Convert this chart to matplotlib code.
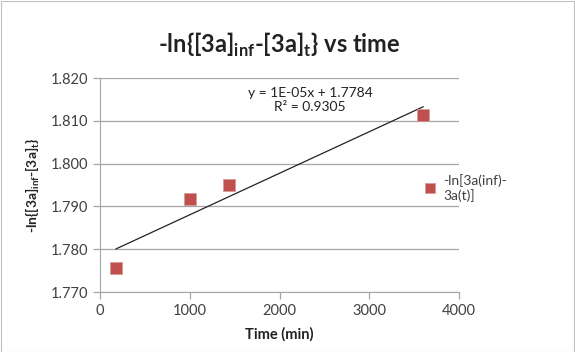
import matplotlib
matplotlib.use("Agg")
import matplotlib.pyplot as plt
import numpy as np

plt.rcParams['font.family'] = ['Lato', 'DejaVu Sans']
plt.rcParams['mathtext.fontset'] = 'custom'
plt.rcParams['mathtext.rm'] = 'Lato'
plt.rcParams['mathtext.bf'] = 'Lato:bold'

# Data
time_min = [180, 1000, 1440, 3600]
neg_ln = [1.7756, 1.7917, 1.7950, 1.8114]
x_ticks = [0, 1000, 2000, 3000, 4000]
y_ticks = [1.770, 1.780, 1.790, 1.800, 1.810, 1.820]
eq_text = "y = 1E-05x + 1.7784\nR\u00b2 = 0.9305"
series_label = "-ln[3a(inf)-\n3a(t)]"

fig = plt.figure(figsize=(5.75, 3.52), dpi=100)
ax = fig.add_axes([100/575, 1-292/352, 359/575, 214/352])

grid_c = '#a6a6a6'
ax.set_axisbelow(True)
ax.grid(axis='y', color=grid_c, lw=0.9)

# linear trendline over the data range
coef = np.polyfit(time_min, neg_ln, 1)
xt = np.array([min(time_min), max(time_min)])
ax.plot(xt, np.polyval(coef, xt), color='#222222', lw=0.9, zorder=2)

ax.plot(time_min, neg_ln, 's', color='#C0504D', markersize=8.5,
        markeredgecolor='#d99694', markeredgewidth=0.5, label=series_label, zorder=3)

ax.set_xlim(0, 4000)
ax.set_ylim(1.770, 1.820)
ax.set_xticks(x_ticks)
ax.set_yticks(y_ticks)
ax.set_yticklabels(['%.3f' % v for v in y_ticks])
for s in ['top', 'right']:
    ax.spines[s].set_visible(False)
for s in ['left', 'bottom']:
    ax.spines[s].set_color(grid_c)
ax.tick_params(colors=grid_c, labelcolor='#404040', labelsize=10.5, length=5, width=0.9)

ax.set_xlabel('Time (min)', fontsize=10.5, fontweight='bold', color='#222222', labelpad=7)
ax.set_ylabel(r'-ln{[3a]$_{\mathbf{inf}}$-[3a]$_{\mathbf{t}}$}', fontsize=10,
              fontweight='bold', color='#222222', labelpad=6)
fig.text((100+459)/2/575, 1-45/352,
         r'-ln{[3a]$_{\mathbf{inf}}$-[3a]$_{\mathbf{t}}$} vs time',
         ha='center', va='center', fontsize=17, fontweight='bold', color='#222222')

ax.text(2340, 1.8149, eq_text, ha='center', va='center', fontsize=10,
        color='#222222', linespacing=1.15)

fig.legend(loc='upper left', bbox_to_anchor=(413/575, 1-164/352), frameon=False,
           fontsize=10, handlelength=1.0, handletextpad=0.5, markerscale=0.9,
           labelcolor='#404040', borderpad=0.2)

fig.patches.append(plt.Rectangle((0.001, 0.001), 0.997, 0.997, transform=fig.transFigure,
                                 fill=False, edgecolor='#bfbfbf', lw=0.8))

plt.savefig('out.png', dpi=100)
